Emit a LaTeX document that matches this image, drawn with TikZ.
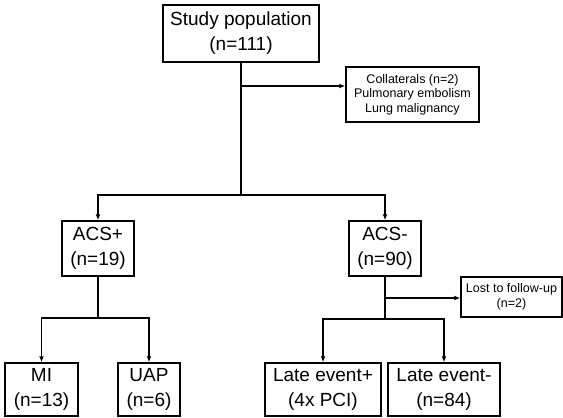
\documentclass[tikz,border=0pt]{standalone}
\usepackage{fontspec}
\setmainfont{Liberation Sans}
\usetikzlibrary{arrows.meta}
\begin{document}
\begin{tikzpicture}[x=1pt,y=-1pt,
  box/.style={draw, line width=1.5pt, inner sep=0pt, align=center, font=\fontsize{19}{25}\selectfont},
  smallbox/.style={draw, line width=1.5pt, inner sep=0pt, align=center, font=\fontsize{12.5}{14.5}\selectfont},
  conn/.style={line width=1.5pt},
  arr/.style={line width=1.5pt, -{Latex[length=6pt,width=5pt]}}]
\useasboundingbox (0,0) rectangle (563,418);
\node[box, minimum width=156pt, minimum height=57pt] (study) at (241,33.5) {Study population\\(n=111)};
\node[smallbox, minimum width=133pt, minimum height=55pt] (coll) at (412.5,94.5) {Collaterals (n=2)\\Pulmonary embolism\\Lung malignancy};
\node[box, minimum width=72pt, minimum height=55pt] (acsp) at (98,248.5) {ACS+\\(n=19)};
\node[box, minimum width=72pt, minimum height=55pt] (acsm) at (385,248.5) {ACS-\\(n=90)};
\node[smallbox, minimum width=101pt, minimum height=40pt] (lost) at (511.5,297) {Lost to follow-up\\(n=2)};
\node[box, minimum width=73pt, minimum height=53pt] (mi) at (41.5,389.5) {MI\\(n=13)};
\node[box, minimum width=62pt, minimum height=53pt] (uap) at (149,389.5) {UAP\\(n=6)};
\node[box, minimum width=116pt, minimum height=53pt] (lep) at (323,389.5) {Late event+\\(4x PCI)};
\node[box, minimum width=112pt, minimum height=53pt] (lem) at (444,389.5) {Late event-\\(n=84)};
\coordinate (s1) at (241,195);
\coordinate (c1) at (241,86);
\coordinate (s2) at (98,318);
\coordinate (s3) at (385,319);
\coordinate (l1) at (385,298);
\draw[conn] (study.south) -- (s1);
\draw[arr] (s1) -| (acsp.north);
\draw[arr] (s1) -| (acsm.north);
\draw[arr] (c1) -- (c1 -| coll.west);
\draw[conn] (acsp.south) -- (s2);
\draw[arr] (s2) -| (mi.north);
\draw[arr] (s2) -| (uap.north);
\draw[conn] (acsm.south) -- (s3);
\draw[arr] (l1) -- (l1 -| lost.west);
\draw[arr] (s3) -| (lep.north);
\draw[arr] (s3) -| (lem.north);
\end{tikzpicture}
\end{document}
